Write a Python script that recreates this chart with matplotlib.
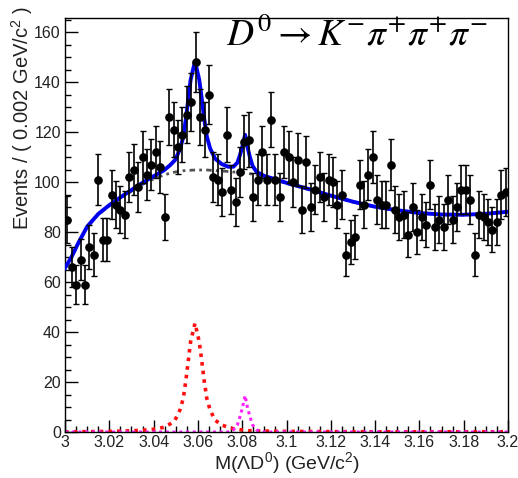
import numpy as np
import matplotlib
matplotlib.use('Agg')
import matplotlib.pyplot as plt
from matplotlib.ticker import MultipleLocator, FuncFormatter

plt.rcParams['font.family'] = ['Liberation Sans', 'DejaVu Sans']
plt.rcParams['mathtext.fontset'] = 'stix'

##Histogram: 100 bins of 0.002 GeV/c^2 from 3.0 to 3.2
x_lo = 3.0
bin_width = 0.002
counts = [
    85, 66, 59, 69, 59, 74, 71, 101, 77, 77,
    95, 91, 89, 87, 102, 105, 98, 110, 103, 107,
    112, 106, 86, 126, 121, 114, 119, 127, 132, 148,
    126, 121, 135, 102, 101, 96, 119, 97, 92, 104,
    116, 117, 94, 101, 112, 101, 125, 101, 94, 112,
    110, 100, 109, 89, 108, 90, 97, 102, 94, 101,
    100, 91, 95, 71, 76, 78, 99, 91, 103, 110,
    93, 91, 91, 107, 89, 86, 87, 79, 90, 80,
    86, 83, 99, 82, 85, 82, 93, 85, 90, 97,
    97, 93, 71, 87, 86, 84, 81, 84, 95, 96,
]

##Fit components at these masses
fit_mass = [
    3.000, 3.003, 3.006, 3.010, 3.015, 3.020, 3.025, 3.030, 3.035, 3.040,
    3.0447, 3.0474, 3.0497, 3.0519, 3.0534, 3.0546, 3.0557, 3.0567, 3.0587, 3.0606,
    3.0617, 3.0628, 3.0640, 3.0655, 3.0677, 3.0707, 3.0737, 3.0760, 3.0778, 3.0790,
    3.0802, 3.0813, 3.0823, 3.0835, 3.0847, 3.0865, 3.090, 3.095, 3.100, 3.110,
    3.120, 3.130, 3.140, 3.150, 3.160, 3.170, 3.180, 3.190, 3.200,
]
background = [
    65.5, 70.0, 75.5, 82.0, 87.0, 90.5, 93.5, 96.3, 99.0, 101.2,
    102.8, 103.5, 104.0, 104.3, 104.5, 104.6, 104.7, 104.7, 104.8, 104.8,
    104.8, 104.8, 104.8, 104.7, 104.6, 104.4, 104.2, 104.0, 103.9, 103.8,
    103.7, 103.6, 103.5, 103.3, 103.1, 102.8, 102.0, 100.8, 99.4, 97.0,
    94.4, 92.0, 90.0, 88.6, 87.5, 86.9, 86.8, 87.2, 88.0,
]
peak_3060 = [
    0.1, 0.1, 0.1, 0.15, 0.2, 0.25, 0.35, 0.5, 0.7, 1.1,
    1.9, 3.2, 4.8, 8.8, 13.5, 20.8, 28.8, 36.1, 43.5, 36.1,
    28.8, 20.8, 13.5, 8.8, 4.8, 2.8, 1.9, 1.3, 1.0, 0.9,
    0.8, 0.7, 0.65, 0.5, 0.5, 0.45, 0.4, 0.3, 0.25, 0.2,
    0.15, 0.12, 0.1, 0.1, 0.1, 0.1, 0.1, 0.1, 0.1,
]
peak_3082 = [
    0, 0, 0, 0, 0, 0, 0, 0, 0, 0,
    0, 0, 0, 0, 0, 0, 0, 0, 0, 0,
    0, 0, 0, 0, 0, 0, 0, 0.8, 2.8, 6.1,
    10.1, 14.6, 10.1, 6.1, 2.8, 0.8, 0, 0, 0, 0,
    0, 0, 0, 0, 0, 0, 0, 0, 0,
]


def main():

    counts_arr = np.array(counts, dtype=float)
    centers = x_lo + bin_width * (np.arange(len(counts)) + 0.5)
    total = np.array(background) + np.array(peak_3060) + np.array(peak_3082)

    fig = plt.figure(figsize=(5.18, 4.78), dpi=100)
    ax = fig.add_axes([65 / 518, 1 - 432 / 478, 443 / 518, 414 / 478])

    # signal shapes first, so they sit under the data
    ax.plot(fit_mass, peak_3060, color='#ff1010', lw=2.6, ls=(0, (1, 1.4)), zorder=2)
    ax.plot(fit_mass, peak_3082, color='#ff20ff', lw=2.2, ls=(0, (1, 1.2)), zorder=2)
    ax.plot(fit_mass, background, color='#555555', lw=2.0, ls=(0, (2, 1.5, 1, 1.5)), zorder=2)
    ax.plot(fit_mass, total, color='#0000ee', lw=2.8, zorder=3)

    ax.errorbar(
        centers, counts_arr, yerr=np.sqrt(counts_arr), fmt='o', color='black',
        ms=5.2, elinewidth=1.2, capsize=2.5, capthick=1.0, zorder=4,
        )

    ax.set_xlim(3.0, 3.2)
    ax.set_ylim(0, 165.6)
    ax.xaxis.set_major_locator(MultipleLocator(0.02))
    ax.xaxis.set_minor_locator(MultipleLocator(0.005))
    ax.yaxis.set_major_locator(MultipleLocator(20))
    ax.yaxis.set_minor_locator(MultipleLocator(5))
    ax.xaxis.set_major_formatter(FuncFormatter(lambda v, p: '{:g}'.format(round(v, 3))))
    ax.tick_params(which='both', direction='in', top=False, right=False,
                   labelsize=11.5, labelcolor='#222222', width=1.0)
    ax.tick_params(which='major', length=9, pad=3)
    ax.tick_params(axis='x', which='major', pad=2)
    ax.tick_params(which='minor', length=4.5)
    for spine in ax.spines.values():
        spine.set_linewidth(1.0)

    fig.text(287 / 518, 1 - 463 / 478, r'M(ΛD$\mathregular{^0}$) (GeV/c$\mathregular{^2}$)',
             ha='center', va='center', fontsize=14, color='#222222')
    fig.text(22 / 518, 1 - 6 / 478, r'Events / ( 0.002 GeV/c$\mathregular{^2}$ )',
             rotation=90, ha='center', va='top', fontsize=14.5, color='#222222')

    fig.text(357 / 518, 1 - 35 / 478, r'$D^0 \rightarrow K^{-}\pi^{+}\pi^{+}\pi^{-}$',
             ha='center', va='center', fontsize=27, color='black')

    fig.savefig('out.png', dpi=100)


if __name__ == '__main__':

    main()
